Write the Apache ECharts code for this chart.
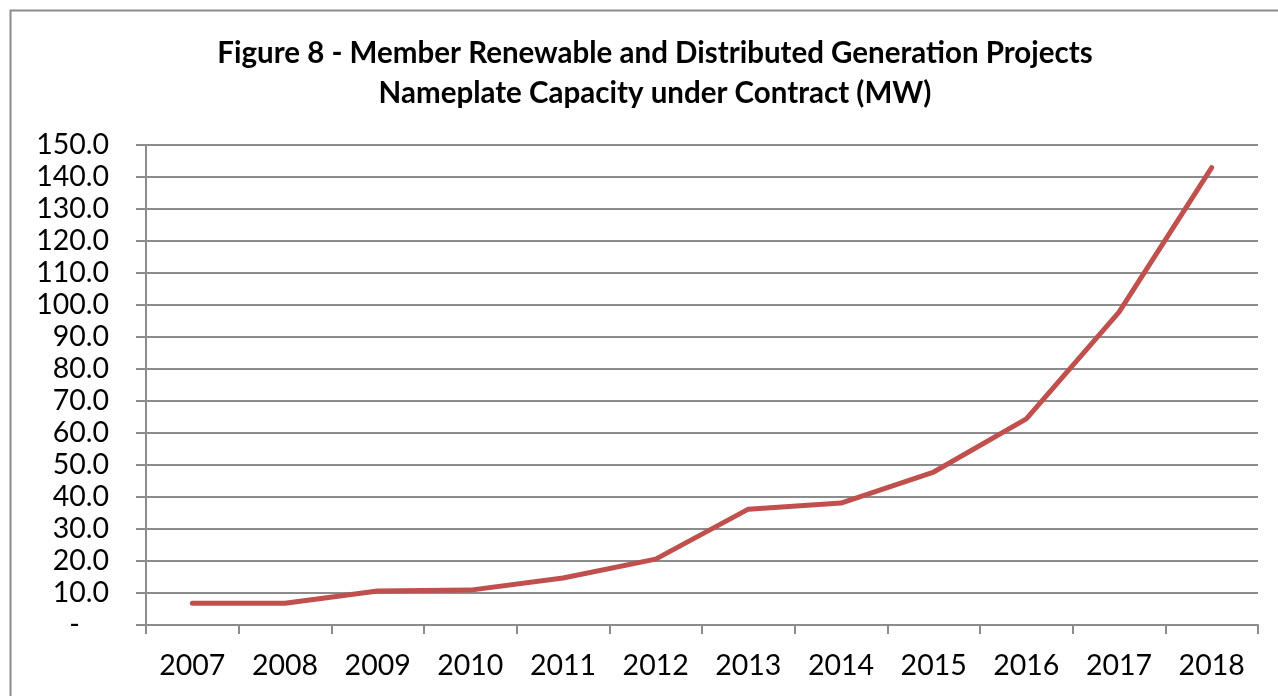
<!DOCTYPE html>
<html>
<head>
<meta charset="utf-8">
<script src="https://cdn.jsdelivr.net/npm/echarts@6/dist/echarts.min.js"></script>
<style>
  html, body { margin: 0; padding: 0; background: #fff; }
  #main { width: 1278px; height: 696px; }
</style>
</head>
<body>
<div id="main"></div>
<script>
// data
const years = ['2007', '2008', '2009', '2010', '2011', '2012', '2013', '2014', '2015', '2016', '2017', '2018'];
const capacityMW = [6.8, 6.8, 10.6, 10.9, 14.7, 20.6, 36.2, 38.1, 47.8, 64.4, 97.8, 142.9];
const titleLines = ['Figure 8 - Member Renewable and Distributed Generation Projects', 'Nameplate Capacity under Contract (MW)'];

const myChart = echarts.init(document.getElementById('main'));
const font = 'Lato, "Open Sans", sans-serif';
const gridColor = '#8c8c8c';

const option = {
  backgroundColor: '#fff',
  animation: false,
  graphic: [
    {
      type: 'rect',
      shape: { x: 10.5, y: 10.5, width: 1300, height: 720 },
      style: { fill: 'none', stroke: '#8c8c8c', lineWidth: 2 },
      silent: true
    }
  ],
  title: {
    text: titleLines.join('\n'),
    left: 650,
    textAlign: 'center',
    top: 28,
    textStyle: {
      fontFamily: font,
      fontWeight: 'bold',
      fontSize: 29.5,
      lineHeight: 40,
      color: '#000'
    }
  },
  grid: {
    left: 146,
    right: 20,
    top: 145,
    bottom: 71,
    outerBoundsMode: 'none'
  },
  xAxis: {
    type: 'category',
    data: years,
    boundaryGap: true,
    axisLine: { lineStyle: { color: gridColor, width: 2 } },
    axisTick: { show: true, length: 9, lineStyle: { color: gridColor, width: 2 } },
    axisLabel: { fontFamily: font, fontSize: 28.5, color: '#000', margin: 26 }
  },
  yAxis: {
    type: 'value',
    min: 0,
    max: 150,
    interval: 10,
    axisLine: { show: true, lineStyle: { color: gridColor, width: 2 } },
    axisTick: { show: true, length: 10, lineStyle: { color: gridColor, width: 2 } },
    splitLine: { lineStyle: { color: gridColor, width: 2 } },
    axisLabel: {
      fontFamily: font,
      fontSize: 28.5,
      color: '#000',
      margin: 37,
      formatter: function (v) {
        return v === 0 ? '-\u00a0\u00a0\u00a0\u00a0' : v.toFixed(1);
      }
    }
  },
  series: [
    {
      type: 'line',
      data: capacityMW,
      symbol: 'none',
      lineStyle: { color: '#c0504d', width: 5, cap: 'round', join: 'round' }
    }
  ]
};

myChart.setOption(option);
</script>
</body>
</html>
